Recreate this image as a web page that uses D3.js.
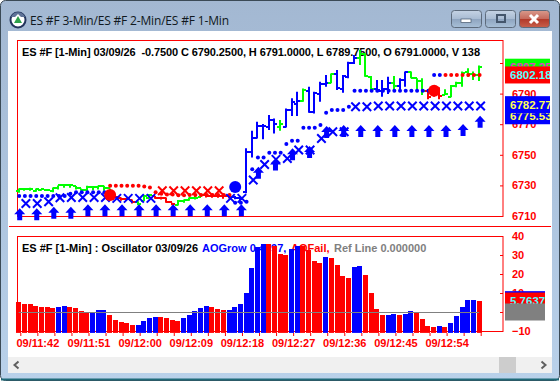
<!DOCTYPE html>
<html><head><meta charset="utf-8">
<script src="https://cdnjs.cloudflare.com/ajax/libs/d3/7.8.5/d3.min.js"></script>
<style>html,body{margin:0;padding:0;background:#fff;overflow:hidden}svg{display:block}text{white-space:pre}</style>
</head><body><div id="c"></div>
<script>
const windowTitle="ES #F 3-Min/ES #F 2-Min/ES #F 1-Min";
const priceTitle="ES #F [1-Min] 03/09/26  -0.7500 C 6790.2500, H 6791.0000, L 6789.7500, O 6791.0000, V 138";
const oscTitle="ES #F [1-Min] : Oscillator 03/09/26";
const oscGrowText="AOGrow 0.4797,", oscFailText="AOFail,", oscRefText="Ref Line 0.000000";
const timeLabels=["09/11:42","09/11:51","09/12:00","09/12:09","09/12:18","09/12:27","09/12:36","09/12:45","09/12:54"];
const priceTicks=[6710,6730,6750,6770,6790,6810];
const oscTicks=[-10,0,10,20,30,40];
const barColor="GGGGGGGGGGGGGGGGGRRRRGGGRRRRGGGGGRRRRRBBBBBBBBGBBBGBBBBGBBBBGGGBBBGBBGGGRRRGGGGGG".padEnd(82,"G");
const high=[6728,6728,6728.5,6728,6727.6,6727.4,6728.7,6730,6730.6,6730.4,6729.6,6728,6729.8,6729.3,6729.8,6729.8,6728,6724,6722.1,6722.1,6720.8,6719.7,6723.7,6724.3,6723,6722.6,6722.1,6718.7,6720.4,6720.8,6722.1,6723,6724.3,6724.3,6724,6723.7,6724.3,6723.7,6723,6722.5,6754.2,6765.7,6771.6,6770.1,6776,6773.8,6772.7,6780.3,6786.9,6791.2,6793.4,6794.5,6791.2,6797.8,6802.1,6803.2,6805.4,6802.1,6810.8,6815.2,6818.5,6816.3,6801.5,6798.9,6798.9,6801,6801.5,6800,6804.4,6804.4,6800,6800,6792.4,6791.3,6794.1,6792.8,6795.6,6797.8,6804.4,6806.5,6804.4,6808.3];
const low=[6725.2,6726.5,6726.5,6725.9,6726.5,6726.3,6725.6,6727.4,6728.5,6728.5,6727.4,6726.5,6725.9,6726.9,6727.4,6726.5,6722.6,6721.5,6720,6720.4,6718.2,6717.1,6719.7,6721.5,6721.3,6720.8,6718.7,6717.1,6716.9,6718.7,6720,6720.8,6722.6,6722.1,6722,6722,6721.3,6721.5,6721,6720.5,6724.8,6748.3,6760.7,6760.1,6766.2,6764,6765.7,6767.9,6775.3,6775.3,6784.7,6777.5,6777,6784.7,6794.5,6796.7,6792.3,6790.6,6800,6809.3,6808.7,6801,6791.9,6791.3,6788,6789.8,6791.3,6791.3,6794.5,6800,6791.3,6789.1,6786.3,6788,6786.3,6789.1,6787.6,6794.1,6794.5,6801,6798.9,6798.2];
const open=[6726.5,6727.4,6727.4,6726.5,6727,6726.9,6726.5,6728.5,6730,6730,6729.6,6728,6727,6729,6729,6729.8,6728,6724,6721.5,6721,6720.4,6719,6720,6722,6723,6722,6721.5,6719,6717.5,6720,6720.4,6721.5,6722.5,6724,6723,6723,6723,6723,6722.5,6722,6726,6752,6761,6768.8,6768,6772.7,6768,6768,6779,6783,6785,6792,6778,6790,6796.5,6797,6803,6793,6801,6809.8,6813,6816,6801,6793,6792,6793,6797,6795,6799,6804,6800,6798,6792,6790,6790,6789,6788,6795,6797,6804,6803,6802];
const close=[6727.6,6727.6,6727.4,6727.4,6727.4,6726.9,6728.5,6730,6730.4,6730,6728,6727,6729,6729,6729.8,6728,6724,6722.6,6721,6721.3,6719,6718,6723,6723.7,6722,6721.5,6719,6718,6720,6720.4,6721.5,6722,6724,6723,6723,6723,6723,6722.5,6722,6721,6752,6760.7,6768.8,6768.8,6772.7,6770,6770,6779.2,6784.7,6785.1,6792.3,6778,6790.6,6796.5,6797,6802.6,6793.4,6801.5,6809.8,6813,6816,6801.5,6793,6792.5,6793,6797,6795,6799,6804,6800.5,6798,6792,6788,6789,6788.5,6790,6795,6797,6803.5,6803,6802,6807.25];
const dotIndex=[0,1,2,3,4,5,6,7,8,9,10,11,12,13,14,15,16,17,18,19,20,21,22,23,24,25,26,27,28,29,30,31,32,33,34,35,36,37,38,39,40,41,42,43,44,45,46,47,48,49,50,51,52,53,54,55,56,57,58,59,60,61,62,63,64,65,66,67,68,69,70,71,72,73,74,75,76,77,78,79,80,81];
const dotValue=[6723,6723,6723,6723,6723,6723,6723,6723,6723,6724.5,6725.5,6725.5,6725.5,6725.5,6725.5,6725.5,6729.8,6729.8,6729.8,6729.8,6729.8,6729.8,6729.2,6728.6,6725.5,6724.5,6724,6724,6723.5,6723.5,6723.7,6723.7,6723.7,6723.7,6723.7,6723.7,6723.7,6723.7,6718.7,6718.7,6719.3,6740.5,6748.3,6748.3,6751.3,6751.3,6751.3,6757,6759.2,6759.2,6767.7,6767.7,6767.7,6769.4,6777.5,6779.2,6779.2,6779.2,6781.4,6791.9,6791.9,6791.9,6791.9,6791.9,6791.9,6791.9,6791.9,6791.9,6791.9,6791.9,6791.9,6791.9,6791.9,6802.18,6802.18,6802.18,6802.18,6802.18,6802.18,6802.18,6802.18,6802.18];
const dotColor="BBBBBBBBBBBBBBBBRRRRRRRRRRRRRRRRRRRRRRBBBBBBBBBBBBBBBBBBBBBBBBBBBBBBBBBBBBBRRRRRRRRR".slice(0,82);
const xIndex=[1,3,5,7,9,11,13,15,17,19,21,23,25,27,29,31,33,35,37,39,41,43,45,47,49,51,53,55,57,59,61,63,65,67,69,71,73,75,77,79,81];
const xValue=[6718.2,6718.2,6719.3,6721.9,6722.1,6722.1,6722.1,6722.1,6721.5,6721.5,6721.5,6721.5,6726.5,6726.5,6726.5,6726.5,6726.5,6726.5,6721.5,6721.5,6733.5,6743.7,6747,6747.6,6753.1,6753.1,6760.7,6765.1,6765.1,6781.4,6781.4,6781.9,6781.9,6781.9,6781.9,6781.9,6781.9,6781.9,6781.9,6781.9,6781.9];
const xColor="BBBBBBBBBBBBRRRRRRBBBBBBBBBBBBBBBBBBBBBBB";
const arrowIndex=[0,3,6,9,12,15,18,21,24,27,30,33,36,39,42,45,48,51,54,57,60,63,66,69,72,75,78,81];
const arrowValue=[6715,6715,6716,6716,6717.6,6717.6,6717.6,6717.6,6717.6,6717.6,6717.6,6717.6,6717.6,6717.6,6742.2,6747.6,6754.2,6755.7,6768.8,6769.4,6769.4,6769.4,6769.4,6769.4,6769.4,6769.4,6770.1,6775.53];
const circleIndex=[16,38,73];
const circleValue=[6723.7,6729,6791.9];
const circleColor=["#f00","#00f","#f00"];
const oscValue=[5.4,4.4,4.4,3.3,2.8,2.8,2.3,2.8,3.3,2.8,2.3,.7,0,0,1.2,1.2,-1.4,-4,-5.2,-5.9,-6.6,-6.6,-4.5,-3,-2.4,-2.4,-3,-4,-4.5,-3,-1.4,.7,2.3,3.3,2.8,1.7,1.2,1.2,2.8,4.4,10.1,23.2,34.2,35.8,35.8,34.7,30.5,30,33.2,34.7,34.7,32.6,26.9,25.8,29,28.4,24.8,19,18,23.7,24.3,19.5,10.1,1.7,-1.4,-1.4,-.9,-1.4,-.9,.7,-.3,-3.5,-7.2,-7.7,-7.2,-7.7,-5.6,-1.9,2.8,6.5,6.5,5.76];
const oscColor="RRRRRRRBBRRRRBBBRRRRRBBBBRRRRBBBBBRRRBBBBBBBRRRRBBRRRRBRRRRBBRRRRBBRBBRRRRBRBBBBBR";
const priceFlags=[["6807.25",6807.25,"#0f0","#e040c0"],["6802.18",6802.18,"#f00","#5ff"],["6775.53",6775.53,"#00f","#ff5"],["6782.77",6782.77,"#00f","#ff5"]];
const oscFlags=[["",6.5,"#00f","#00f"],["5.7637",5.7637,"#f00","#5ff"],["",0,"#808080","#808080"]];

const C={G:"#00ff00",B:"#0000ff",R:"#ff0000"};
const F='"Liberation Sans",Arial,sans-serif';
const svg=d3.select("#c").append("svg").attr("width",560).attr("height",381);
const defs=svg.append("defs");
const grad=defs.append("linearGradient").attr("id","cap").attr("x1",0).attr("x2",0).attr("y1",0).attr("y2",1);
[[0,"#a3b8d2"],[.5,"#adc4de"],[1,"#b9d1ea"]].forEach(s=>grad.append("stop").attr("offset",s[0]).attr("stop-color",s[1]));
function btnGrad(id,a,b,c,d){const g=defs.append("linearGradient").attr("id",id).attr("x1",0).attr("x2",0).attr("y1",0).attr("y2",1);
 [[0,a],[.48,b],[.52,c],[1,d]].forEach(s=>g.append("stop").attr("offset",s[0]).attr("stop-color",s[1]));}
btnGrad("bg","#c5d3e4","#a9bcd3","#8fa5c0","#a8c0d8");
btnGrad("br","#d99a8c","#c66a5c","#b23a2a","#c8604c");
svg.append("rect").attr("width",560).attr("height",381).attr("fill","#fff");
svg.append("rect").attr("x",.5).attr("y",.5).attr("width",559).attr("height",380).attr("rx",5).attr("fill","url(#cap)").attr("stroke","#3b4a56");
svg.append("rect").attr("x",1).attr("y",378.5).attr("width",558).attr("height",2).attr("fill","#1f6a78");
svg.append("rect").attr("x",8).attr("y",31).attr("width",544).attr("height",342).attr("fill","#fff");
svg.append("rect").attr("x",8).attr("y",357).attr("width",544).attr("height",16).attr("fill","#f0f0f0");
svg.append("rect").attr("x",499).attr("y",357).attr("width",17).attr("height",16).attr("fill","#cdcdcd");
svg.append("path").attr("d","M18.5 361.5l-4 3.5 4 3.5").attr("fill","none").attr("stroke","#606060").attr("stroke-width",2);
svg.append("path").attr("d","M541.500 361.5l4 3.500-4 3.500").attr("fill","none").attr("stroke","#606060").attr("stroke-width",2);
svg.append("circle").attr("cx",18).attr("cy",20).attr("r",7.5).attr("fill","#fff").attr("stroke","#23345c").attr("stroke-width",2);
svg.append("path").attr("d","M18 16l4 7h-8z").attr("fill","#2ea04a");
svg.append("path").attr("d","M11 17a7.500 7.500 0 0 1 14 0l-4 0-3-3-3 3z").attr("fill","#5f7398");
svg.append("text").attr("x",30).attr("y",24.5).attr("font-family",'"Open Sans",sans-serif').attr("font-size",12).attr("fill","#101820").attr("textLength",199).text(windowTitle);
[[451,"bg"],[485,"bg"],[519,"br"]].forEach(b=>svg.append("rect").attr("x",b[0]+.5).attr("y",10.5).attr("width",30).attr("height",17).attr("rx",3).attr("fill",`url(#${b[1]})`).attr("stroke","#5d6b7c"));
svg.append("rect").attr("x",461).attr("y",19).attr("width",10).attr("height",3.5).attr("fill","#fff").attr("stroke","#44566c").attr("stroke-width",.7);
svg.append("rect").attr("x",497).attr("y",15).attr("width",8).attr("height",7).attr("fill","none").attr("stroke","#44566c").attr("stroke-width",2);
svg.append("path").attr("d","M530 15l8 8M538 15l-8 8").attr("stroke","#fff").attr("stroke-width",3);

const x=d3.scaleLinear().domain([0,81]).range([18.7,479.1]);
const tx=d3.scaleLinear().domain([0,81]).range([20.3,480.7]);
const y=d3.scaleLinear().domain([6710,6810]).range([216,63]);
const oy=d3.scaleLinear().domain([-10,40]).range([331,236]);
const L=17.5,R=503;
svg.append("line").attr("x1",9).attr("x2",551).attr("y1",226.5).attr("y2",226.5).attr("stroke","#f00");
svg.append("rect").attr("x",L).attr("y",40.5).attr("width",R-L).attr("height",176).attr("fill","none").attr("stroke","#f00");
svg.append("rect").attr("x",L).attr("y",236.5).attr("width",R-L).attr("height",95).attr("fill","none").attr("stroke","#f00");
const ttl=(g,t,xx,yy,col)=>g.append("text").attr("x",xx).attr("y",yy).attr("font-family",F).attr("font-weight","bold").attr("font-size",11).attr("fill",col).text(t);
ttl(svg,priceTitle,22,56,"#000").attr("textLength",458);
ttl(svg,oscTitle,22,252,"#000");
ttl(svg,oscGrowText,202,252,"#00f");
ttl(svg,oscFailText,291,252,"#f00");
ttl(svg,oscRefText,334,252,"#808080");
function styleAxis(g){g.select(".domain").remove();g.selectAll("line").attr("stroke","#f00");
 g.selectAll("text").attr("fill","#f00").attr("font-family",F).attr("font-weight","bold").attr("font-size",11);}
svg.append("g").attr("transform",`translate(${R},0)`).call(d3.axisLeft(y).tickValues(priceTicks).tickSize(3).tickFormat("")).call(styleAxis);
svg.append("g").attr("transform",`translate(512,0)`).call(d3.axisRight(y).tickValues(priceTicks).tickSize(0).tickPadding(0).tickFormat(d3.format("d"))).call(styleAxis);
svg.append("g").attr("transform",`translate(${R},0)`).call(d3.axisLeft(oy).tickValues(oscTicks).tickSize(3).tickFormat("")).call(styleAxis);
svg.append("g").attr("transform",`translate(512,0)`).call(d3.axisRight(oy).tickValues(oscTicks).tickSize(0).tickPadding(0).tickFormat(d3.format("d"))).call(styleAxis);
const tickIdx=d3.range(0,82,3);
const labelFor=i=>{const k=(i-3)/9;return Number.isInteger(k)&&timeLabels[k]?timeLabels[k]:"";};
svg.append("g").attr("transform","translate(0,333)").call(d3.axisBottom(tx).tickValues(tickIdx).tickSize(3).tickPadding(3).tickFormat(labelFor)).call(styleAxis);
const bars=svg.append("g").attr("fill","none").attr("stroke-width",2);
bars.selectAll("path").data(d3.range(82)).join("path")
 .attr("stroke",i=>C[barColor[i]])
 .attr("d",i=>{const p=d3.path(),c=Math.round(x(i));
  p.moveTo(c,y(high[i]));p.lineTo(c,y(low[i]));
  p.moveTo(c-3,Math.round(y(open[i])));p.lineTo(c,Math.round(y(open[i])));
  p.moveTo(c,Math.round(y(close[i])));p.lineTo(c+3,Math.round(y(close[i])));return p.toString();});
svg.append("g").selectAll("circle").data(dotIndex).join("circle").attr("cx",(d)=>x(d)+.5).attr("cy",(d,i)=>y(dotValue[i])).attr("r",2).attr("fill",(d,i)=>C[dotColor[i]]);
const cross=d3.symbol().type({draw(c,s){const r=Math.sqrt(s);c.moveTo(-r,-r);c.lineTo(r,r);c.moveTo(r,-r);c.lineTo(-r,r);}}).size(18);
svg.append("g").attr("fill","none").attr("stroke-width",2).selectAll("path").data(xIndex).join("path").attr("d",cross)
 .attr("stroke",(d,i)=>C[xColor[i]]).attr("transform",(d,i)=>`translate(${x(d)+1.5},${y(xValue[i])})`);
const arrow=d3.symbol().type({draw(c){c.moveTo(0,0);c.lineTo(5.5,6);c.lineTo(2.5,6);c.lineTo(2.5,12);c.lineTo(-2.5,12);c.lineTo(-2.5,6);c.lineTo(-5.5,6);c.closePath();}}).size(1);
svg.append("g").attr("fill","#00f").selectAll("path").data(arrowIndex).join("path").attr("d",arrow)
 .attr("transform",(d,i)=>`translate(${x(d)+1},${y(arrowValue[i])})`);
svg.append("g").selectAll("circle").data(circleIndex).join("circle").attr("cx",d=>x(d)+.5).attr("cy",(d,i)=>y(circleValue[i])).attr("r",6).attr("fill",(d,i)=>circleColor[i]);
function flags(list,sc,w,id){
 const fg=svg.append("g");
 list.forEach((f,i)=>{const cy=sc(f[1]);
  const cid=id+i;defs.append("clipPath").attr("id",cid).append("rect").attr("x",505).attr("y",cy-8.5).attr("width",w).attr("height",17);
  fg.append("rect").attr("x",505).attr("y",cy-8.5).attr("width",w).attr("height",17).attr("fill",f[2]);
  if(f[0])fg.append("text").attr("clip-path",`url(#${cid})`).attr("x",510).attr("y",cy+4).attr("font-family",F).attr("font-weight","bold").attr("font-size",11.5).attr("fill",f[3]).text(f[0]);});
}
flags(priceFlags,y,45,"pf");
svg.append("g").selectAll("rect").data(oscValue).join("rect").attr("x",(d,i)=>Math.round(x(i)-2.5)).attr("width",5)
 .attr("y",d=>Math.round(oy(d))).attr("height",d=>oy(-11)-Math.round(oy(d))).attr("fill",(d,i)=>C[oscColor[i]]);
svg.append("line").attr("x1",x(0)).attr("x2",x(81)).attr("y1",Math.round(oy(0))+.5).attr("y2",Math.round(oy(0))+.5).attr("stroke","#808080").attr("stroke-width",1);
flags(oscFlags,oy,40,"of");
</script></body></html>
